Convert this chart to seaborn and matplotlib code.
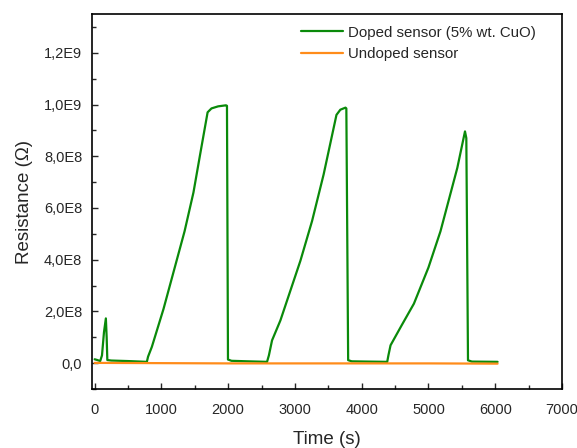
import numpy as np
import pandas as pd
import seaborn as sns
import matplotlib.pyplot as plt
from matplotlib.ticker import FuncFormatter, MultipleLocator

# Data
doped_time = [0, 40, 83, 110, 140, 168, 180, 190, 250, 500, 782,
              800, 857, 1032, 1200, 1347, 1480, 1582, 1692, 1750, 1850, 1967, 1982,
              1997, 2050, 2300, 2582,
              2610, 2657, 2782, 3082, 3257, 3430, 3622, 3680, 3757, 3770,
              3797, 3850, 4100, 4382,
              4400, 4432, 4600, 4782, 5000, 5180, 5432, 5547, 5567,
              5592, 5650, 6035]
doped_res = [1.5e7, 1.2e7, 8e6, 3e7, 1.2e8, 1.73e8, 1.0e8, 1.2e7, 1.0e7, 8e6, 5e6,
             2.5e7, 6.3e7, 2.1e8, 3.7e8, 5.1e8, 6.6e8, 8.1e8, 9.7e8, 9.85e8, 9.93e8, 9.97e8, 9.95e8,
             1.4e7, 9e6, 7e6, 5e6,
             3e7, 8.8e7, 1.65e8, 3.96e8, 5.5e8, 7.3e8, 9.6e8, 9.8e8, 9.88e8, 9.85e8,
             1.15e7, 7e6, 6e6, 5e6,
             3e7, 6.9e7, 1.47e8, 2.3e8, 3.7e8, 5.1e8, 7.55e8, 8.96e8, 8.7e8,
             1.1e7, 6e6, 5e6]

undoped_time = [0, 1000, 2000, 3000, 4000, 5000, 6035]
undoped_res = [1e6, 0, -1e6, -1e6, -1e6, -1e6, -2e6]

labels = ["Doped sensor (5% wt. CuO)", "Undoped sensor"]

df = pd.concat([
    pd.DataFrame({"Time": doped_time, "R": doped_res, "s": labels[0]}),
    pd.DataFrame({"Time": undoped_time, "R": undoped_res, "s": labels[1]}),
])

sns.set_style("ticks")
plt.rcParams['font.family'] = ['Liberation Sans', 'DejaVu Sans']

fig = plt.figure(figsize=(5.77, 4.48), dpi=100)
ax = fig.add_axes([0.1594, 0.1317, 0.8146, 0.837])

sns.lineplot(data=df, x="Time", y="R", hue="s", sort=False,
             palette={labels[0]: "#0a8a0a", labels[1]: "#ff8c1a"},
             linewidth=1.6, ax=ax, estimator=None)

ax.set_xlim(-40, 7000)
ax.set_ylim(-1e8, 1.35e9)
ax.xaxis.set_major_locator(MultipleLocator(1000))
ax.xaxis.set_minor_locator(MultipleLocator(500))
ax.yaxis.set_major_locator(MultipleLocator(2e8))
ax.yaxis.set_minor_locator(MultipleLocator(1e8))


def fmt(v, pos):
    if abs(v) < 1:
        return "0,0"
    e = int(np.floor(np.log10(abs(v))))
    m = v / 10 ** e
    return f"{m:.1f}E{e}".replace(".", ",")


ax.yaxis.set_major_formatter(FuncFormatter(fmt))
ax.tick_params(direction="in", which="both", labelsize=10.5, length=4, width=1)
ax.tick_params(which="minor", length=3)
ax.tick_params(axis="x", pad=10)
ax.tick_params(axis="y", pad=7)
for s in ax.spines.values():
    s.set_linewidth(1.2)
    s.set_color("black")

ax.set_xlabel("Time (s)", fontsize=13.5, labelpad=10)
ax.set_ylabel("Resistance (\u03a9)", fontsize=13.5, labelpad=8)

ax.legend(loc="upper right", bbox_to_anchor=(0.957, 0.985), frameon=False,
          fontsize=10.8, handlelength=2.8, handletextpad=0.35,
          borderaxespad=0, labelspacing=0.5)

fig.savefig("out.png", dpi=100)
